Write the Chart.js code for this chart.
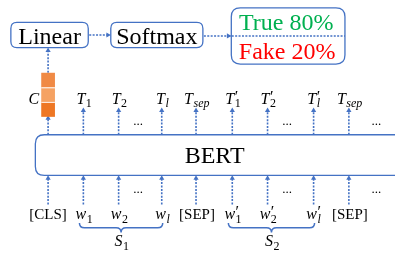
<!DOCTYPE html>
<html>
<head>
<meta charset="utf-8">
<script src="https://cdn.jsdelivr.net/npm/chart.js@4.4.1/dist/chart.umd.min.js"></script>
<style>
  html, body { margin: 0; padding: 0; background: #fff; }
  canvas { display: block; }
</style>
</head>
<body>
<canvas id="bertChart" width="395" height="255"></canvas>
<script>
// Diagram content
const inputTokens = ['[CLS]', 'w_1', 'w_2', 'w_l', '[SEP]', "w'_1", "w'_2", "w'_l", '[SEP]'];
const outputTokens = ['C', 'T_1', 'T_2', 'T_l', 'T_sep', "T'_1", "T'_2", "T'_l", 'T_sep'];
const classLabels = ['True', 'Fake'];
const classProbs = [80, 20];
const headLabels = ['Linear', 'Softmax'];
const segmentLabels = ['S_1', 'S_2'];

// Layout (diagram units = pixels)
const colX = [45, 81, 117, 161, 196, 233, 269, 316, 352];
const dotsX = [137, 289, 380];
const segmentSpans = [[1, 3], [5, 7]];   // column index ranges under each brace

const BLUE = '#4472c4';
const SERIF = '"Liberation Serif", "DejaVu Serif", serif';

function arrow(x1, y1, x2, y2, rot) {
    return {
        data: [{ x: x1, y: y1 }, { x: x2, y: y2 }],
        showLine: true,
        borderColor: BLUE,
        borderWidth: 1.6,
        borderDash: [2, 1.4],
        pointRadius: [0, 3],
        pointStyle: 'triangle',
        pointRotation: rot,
        pointBackgroundColor: BLUE,
        pointBorderWidth: 0
    };
}

// Build arrow datasets from the columns
const datasets = [];
colX.forEach((x, i) => {
    datasets.push(arrow(x, 207, x, 180, 0));        // input -> BERT
    if (i === 0) {
        datasets.push(arrow(x, 135, x, 118, 0));    // BERT -> C (hidden under bar)
        datasets.push(arrow(x, 71, x, 48, 0));      // C -> Linear
    } else {
        datasets.push(arrow(x, 135, x, 110, 0));    // BERT -> T
    }
});
datasets.push(arrow(87, 32, 106, 32, 90));          // Linear -> Softmax
datasets.push(arrow(204, 33, 229, 33, 90));         // Softmax -> result

function roundRect(ctx, x, y, w, h, r) {
    ctx.beginPath();
    ctx.moveTo(x + r, y);
    ctx.lineTo(x + w - r, y);
    ctx.quadraticCurveTo(x + w, y, x + w, y + r);
    ctx.lineTo(x + w, y + h - r);
    ctx.quadraticCurveTo(x + w, y + h, x + w - r, y + h);
    ctx.lineTo(x + r, y + h);
    ctx.quadraticCurveTo(x, y + h, x, y + h - r);
    ctx.lineTo(x, y + r);
    ctx.quadraticCurveTo(x, y, x + r, y);
    ctx.closePath();
}

// Draw symbols like T'_1, w_l, S_2 with prime / subscript
function drawSymbol(ctx, label, cx, baseline, size) {
    if (label.startsWith('[')) {
        ctx.font = `${size}px ${SERIF}`;
        ctx.textAlign = 'center';
        ctx.fillText(label, cx, baseline);
        return;
    }
    const m = label.match(/^([A-Za-z])('?)(?:_(\w+))?$/);
    const base = m[1], prime = m[2], sub = m[3] || '';
    const small = Math.round(size * 0.72);
    ctx.textAlign = 'left';
    ctx.font = `italic ${size}px ${SERIF}`;
    const wb = ctx.measureText(base).width;
    const subFont = /^\d+$/.test(sub) ? `${small}px ${SERIF}` : `italic ${small}px ${SERIF}`;
    ctx.font = subFont;
    const ws = ctx.measureText(sub).width;
    const wp = prime ? size * 0.3 : 0;
    const total = wb + Math.max(ws, wp) + 1;
    const x0 = cx - total / 2;
    ctx.font = `italic ${size}px ${SERIF}`;
    ctx.fillText(base, x0, baseline);
    if (sub) {
        ctx.font = subFont;
        ctx.fillText(sub, x0 + wb + 0.5, baseline + size * 0.22);
    }
    if (prime) {
        ctx.font = `${size}px ${SERIF}`;
        ctx.fillText('\u2032', x0 + wb + 0.5, baseline - size * 0.12);
    }
}

function drawBrace(ctx, x1, x2, yT, yM, yB) {
    const mx = (x1 + x2) / 2;
    ctx.beginPath();
    ctx.moveTo(x1, yT);
    ctx.quadraticCurveTo(x1, yM, x1 + 5, yM);
    ctx.lineTo(mx - 5, yM);
    ctx.quadraticCurveTo(mx, yM, mx, yB);
    ctx.quadraticCurveTo(mx, yM, mx + 5, yM);
    ctx.lineTo(x2 - 5, yM);
    ctx.quadraticCurveTo(x2, yM, x2, yT);
    ctx.stroke();
}

const diagramPlugin = {
    id: 'diagram',
    beforeDatasetsDraw(chart) {
        const ctx = chart.ctx;
        const sx = chart.scales.x, sy = chart.scales.y;
        const X = v => sx.getPixelForValue(v), Y = v => sy.getPixelForValue(v);
        ctx.save();
        ctx.strokeStyle = BLUE;
        ctx.lineWidth = 1.3;
        // Linear and Softmax boxes
        roundRect(ctx, X(7), Y(19), X(86) - X(7), Y(45) - Y(19), 6);
        ctx.stroke();
        roundRect(ctx, X(109), Y(19), X(203) - X(109), Y(45) - Y(19), 6);
        ctx.stroke();
        // result box
        roundRect(ctx, X(232), Y(4), X(348) - X(232), Y(62) - Y(4), 9);
        ctx.stroke();
        // BERT box (runs off the right edge)
        roundRect(ctx, X(32), Y(135), X(430) - X(32), Y(177) - Y(135), 9);
        ctx.stroke();
        // dotted divider in result box
        ctx.setLineDash([2, 1.4]);
        ctx.lineWidth = 1.6;
        ctx.beginPath();
        ctx.moveTo(X(229), Y(33));
        ctx.lineTo(X(348), Y(33));
        ctx.stroke();
        ctx.restore();
    },
    afterDatasetsDraw(chart) {
        const ctx = chart.ctx;
        const sx = chart.scales.x, sy = chart.scales.y;
        const X = v => sx.getPixelForValue(v), Y = v => sy.getPixelForValue(v);
        ctx.save();

        // orange [CLS] vector
        const barL = X(38), barW = X(52) - X(38);
        const segColors = ['#f08a45', '#f5a263', '#ee7724'];
        [71, 86, 101].forEach((top, i) => {
            ctx.fillStyle = segColors[i];
            ctx.fillRect(barL, Y(top), barW, 15);
        });
        ctx.strokeStyle = '#fff';
        ctx.lineWidth = 1;
        [86, 101].forEach(y => {
            ctx.beginPath();
            ctx.moveTo(barL, Y(y) + 0.5);
            ctx.lineTo(barL + barW, Y(y) + 0.5);
            ctx.stroke();
        });

        ctx.textBaseline = 'alphabetic';
        ctx.fillStyle = '#000';
        ctx.textAlign = 'center';
        ctx.font = `24px ${SERIF}`;
        ctx.fillText(headLabels[0], X(46.5), Y(41));
        ctx.fillText(headLabels[1], X(156), Y(41));
        ctx.fillText('BERT', X(215), Y(164));

        ctx.fillStyle = '#00b050';
        ctx.fillText(`${classLabels[0]} ${classProbs[0]}%`, X(288), Y(27));
        ctx.fillStyle = '#ff0000';
        ctx.fillText(`${classLabels[1]} ${classProbs[1]}%`, X(289), Y(57));

        // token labels
        ctx.fillStyle = '#000';
        outputTokens.forEach((t, i) => {
            const cx = i === 0 ? X(31) : X(colX[i] + 1);
            drawSymbol(ctx, t, cx, Y(103), 16);
        });
        inputTokens.forEach((t, i) => {
            drawSymbol(ctx, t, X(colX[i] + (i === 0 ? 0 : 1)), Y(222), i === 0 || i === 4 || i === 8 ? 15 : 16);
        });

        // ellipses
        ctx.textAlign = 'center';
        ctx.font = `13px ${SERIF}`;
        dotsX.forEach(x => {
            ctx.fillText('...', X(x), Y(125));
            ctx.fillText('...', X(x), Y(195));
        });

        // braces + segment labels
        ctx.strokeStyle = BLUE;
        ctx.lineWidth = 1.5;
        segmentSpans.forEach((span, k) => {
            const x1 = colX[span[0]] - 4, x2 = colX[span[1]] + 1;
            drawBrace(ctx, X(x1), X(x2), Y(226), Y(231), Y(236));
            drawSymbol(ctx, segmentLabels[k], X((x1 + x2) / 2 + 1), Y(250), 16);
        });

        ctx.restore();
    }
};

new Chart(document.getElementById('bertChart'), {
    type: 'scatter',
    data: { datasets },
    options: {
        responsive: false,
        animation: false,
        layout: { padding: 0 },
        scales: {
            x: { type: 'linear', min: 0, max: 395, display: false },
            y: { type: 'linear', min: 0, max: 255, reverse: true, display: false }
        },
        plugins: {
            legend: { display: false },
            tooltip: { enabled: false }
        }
    },
    plugins: [diagramPlugin]
});
</script>
</body>
</html>
